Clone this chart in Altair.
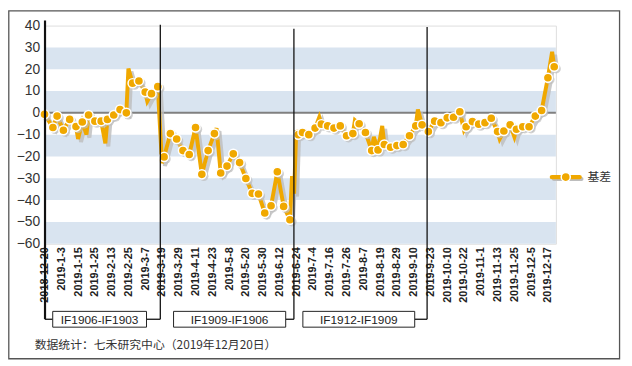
import altair as alt
import pandas as pd

# ---- data ----
tick_labels = ["2018-12-20", "2019-1-3", "2019-1-15", "2019-1-25", "2019-2-13", "2019-2-25",
               "2019-3-7", "2019-3-19", "2019-3-29", "2019-4-11", "2019-4-23", "2019-5-8",
               "2019-5-20", "2019-5-30", "2019-6-12", "2019-6-24", "2019-7-4", "2019-7-16",
               "2019-7-26", "2019-8-7", "2019-8-19", "2019-8-29", "2019-9-10", "2019-9-23",
               "2019-10-10", "2019-10-22", "2019-11-1", "2019-11-13", "2019-11-25",
               "2019-12-5", "2019-12-17"]

# trading-day index and basis value at the marked points
marker_idx = [0, 4, 6, 9, 12, 15, 18, 21, 24, 27, 30, 33, 36, 39, 42, 45, 48, 51, 54,
              57, 60, 63, 66, 69, 72, 75, 78, 81, 84, 87, 90, 93, 96, 99, 102, 105, 108,
              111, 114, 117, 121, 123, 126, 129, 132, 135, 138, 141, 144, 147, 150, 153,
              156, 159, 162, 165, 168, 171, 174, 177, 180, 183, 186, 189, 192, 195, 198,
              201, 204, 207, 210, 213, 216, 219, 222, 225, 228, 231, 234, 237, 240, 243]
marker_val = [-0.7, -6.7, -1.5, -8, -3, -6.3, -4.2, -1, -3.8, -3.8, -3, -1, 1.5, 0, 13.6,
              14.6, 9.5, 8.8, 12,
              -20.2, -9.5, -12, -17.3, -19.1, -6.7, -28.2, -17.3, -9.5, -27.6, -24.4, -18.8,
              -22.8, -30.1, -36.9, -37.2, -45.9, -42.6, -27, -42.9, -49,
              -10, -9, -10, -7, -5.2, -6, -7, -6, -10.5, -9.5, -5, -9, -17.3, -17, -14.5,
              -15.8, -15, -14.5, -10.5, -6, -5.5,
              -8.6, -3.8, -4.5, -2.3, -2, 0.5, -6.4, -4, -5.2, -4.5, -2.5, -8.6, -8.3, -5.5,
              -7.5, -6.4, -6.4, -1.5, 1.1, 16.1, 21.1]

# unmarked points of the daily line (spikes between markers)
spike_idx = [16, 20, 29, 40, 41, 49, 56, 82, 118, 119, 120, 131, 148, 157, 161, 178,
             200, 217, 224, 242]
spike_val = [-12, -10, -14, 20.3, 17, 5.3, -23, -7, -29, -37, -8, -2, -3.4, -11, -6, 1.5,
             -8, -12, -11, 28]

band_lo = [20, 0, -20, -40, -60]
band_hi = [30, 10, -10, -30, -50]

roll_idx = [55.2, 118.9, 182.4]
contract_labels = ["IF1906-IF1903", "IF1909-IF1906", "IF1912-IF1909"]
series_name = "基差"
footer = "数据统计：七禾研究中心（2019年12月20日）"

# ---- tables ----
markers = pd.DataFrame({"i": marker_idx, "v": marker_val})
line_df = pd.concat([markers, pd.DataFrame({"i": spike_idx, "v": spike_val})]).sort_values("i")
bands = pd.DataFrame({"lo": band_lo, "hi": band_hi})

ORANGE = "#F0A800"
SHADOW = "#BDBDBD"
W, H = 518, 221
XMAX = 243.8
FONT = "Liberation Sans"
CJK = "Noto Sans CJK SC"

label_arr = "[" + ",".join("'" + s + "'" for s in tick_labels) + "]"

xs = alt.Scale(domain=[0, XMAX], nice=False, zero=False)
ys = alt.Scale(domain=[-60, 40], nice=False)

x_axis = alt.Axis(values=list(range(0, 241, 8)), labelExpr=label_arr + "[round(datum.value/8)]",
                  labelAngle=270, labelAlign="right", labelBaseline="middle",
                  labelFont=FONT, labelFontSize=11, labelFontWeight="bold", labelColor="#222",
                  ticks=False, domain=False, grid=False, labelPadding=3, title=None,
                  labelOverlap=False, labelBound=False)
y_axis = alt.Axis(values=list(range(-60, 41, 10)), grid=False, domain=False, ticks=False,
                  labelFont=FONT, labelFontSize=14, labelColor="#333", labelPadding=5,
                  title=None, labelOverlap=False, labelBound=False)

X = alt.X("i:Q", scale=xs, axis=x_axis)
Y = alt.Y("v:Q", scale=ys, axis=y_axis)

one = pd.DataFrame({"k": [0]})

band_layer = alt.Chart(bands).mark_rect(color="#D9E4F0").encode(
    x=alt.value(0), x2=alt.value(W),
    y=alt.Y("hi:Q", scale=ys, axis=y_axis), y2="lo:Q")

zero_layer = alt.Chart(one).mark_rule(color="#808080", strokeWidth=2).encode(
    x=alt.value(0), x2=alt.value(W), y=alt.datum(0, scale=ys, axis=y_axis))

shadow_line = alt.Chart(line_df).mark_line(color=SHADOW, strokeWidth=4, xOffset=3, yOffset=3,
                                           opacity=0.8).encode(x=X, y=Y)
main_line = alt.Chart(line_df).mark_line(color=ORANGE, strokeWidth=4).encode(x=X, y=Y)
shadow_pts = alt.Chart(markers).mark_circle(color=SHADOW, size=90, opacity=0.7,
                                            xOffset=2, yOffset=2).encode(x=X, y=Y)
pts = alt.Chart(markers).mark_circle(color=ORANGE, size=85, opacity=1, stroke="white",
                                     strokeWidth=1.5).encode(x=X, y=Y)

# roll-over lines and contract boxes
rolls = pd.DataFrame({"i": roll_idx, "top": [-0.8, 3.2, 1.5],
                      "bx1": [8.3, 130.7, 261.7], "bx2": [103.3, 244.3, 375],
                      "label": contract_labels})
CY = 297.5
roll_v = alt.Chart(rolls).mark_rule(color="#111", strokeWidth=1.3).encode(
    x=X, y=alt.Y("top:Q", scale=None), y2=alt.value(CY))
roll_h = alt.Chart(rolls).transform_calculate(
    bxd="datum.bx2 * %f / %f" % (XMAX, W)).mark_rule(color="#111", strokeWidth=1.3).encode(
    x=X, x2="bxd:Q", y=alt.value(CY))
left_v = alt.Chart(one).mark_rule(color="#111", strokeWidth=2.2).encode(
    x=alt.value(0.5), y=alt.value(-5.2), y2=alt.value(CY))
left_h = alt.Chart(one).mark_rule(color="#111", strokeWidth=1.3).encode(
    x=alt.value(0.5), x2=alt.value(8.3), y=alt.value(CY))
boxes = alt.Chart(rolls).mark_rect(fill="white", stroke="#222", strokeWidth=1).encode(
    x=alt.X("bx1:Q", scale=None), x2="bx2:Q", y=alt.value(289.5), y2=alt.value(305.5))
box_text = alt.Chart(rolls).transform_calculate(cx="(datum.bx1 + datum.bx2) / 2").mark_text(
    font=FONT, fontSize=12, color="#222", align="center", baseline="middle").encode(
    x=alt.X("cx:Q", scale=None), y=alt.value(297.8), text="label:N")

# legend
LY = 153.5
leg_shadow = alt.Chart(one).mark_rule(color=SHADOW, strokeWidth=4, strokeCap="round").encode(
    x=alt.value(516), x2=alt.value(544), y=alt.value(LY + 2))
leg_line = alt.Chart(one).mark_rule(color=ORANGE, strokeWidth=4.5, strokeCap="round").encode(
    x=alt.value(514), x2=alt.value(542), y=alt.value(LY))
leg_pt = alt.Chart(one).mark_circle(color=ORANGE, size=85, opacity=1, stroke="white",
                                    strokeWidth=1.5).encode(x=alt.value(528), y=alt.value(LY))
leg_text = alt.Chart(one).mark_text(font=CJK, fontSize=12, color="#333", align="left",
                                    baseline="middle").encode(
    x=alt.value(550), y=alt.value(LY), text=alt.value(series_name))

foot = alt.Chart(one).mark_text(font=CJK, fontSize=12, color="#333", align="left",
                                baseline="middle").encode(
    x=alt.value(-10), y=alt.value(324), text=alt.value(footer))

border = alt.Chart(one).mark_rect(fillOpacity=0, stroke="#555", strokeWidth=1.3).encode(
    x=alt.value(-36.2), x2=alt.value(582.5), y=alt.value(-14.8), y2=alt.value(337.5))

chart = alt.layer(
    band_layer, zero_layer, shadow_line, main_line, shadow_pts, pts,
    roll_v, roll_h, left_v, left_h, boxes, box_text,
    leg_shadow, leg_line, leg_pt, leg_text, foot, border
).properties(
    width=W, height=H,
    autosize=alt.AutoSizeParams(type="none"),
    padding={"left": 37, "top": 15.5, "right": 69, "bottom": 118},
).configure_view(stroke=None).configure(background="white")

chart.save("out.html", embed_options={"renderer": "svg", "actions": False})
